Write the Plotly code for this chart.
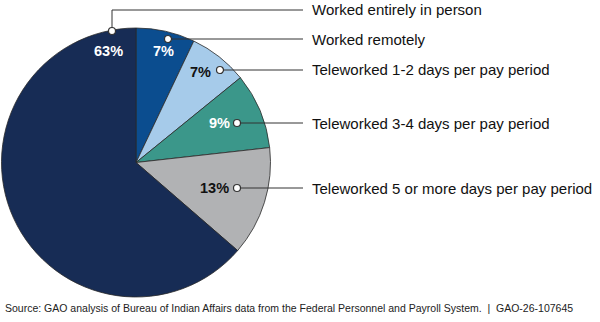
import plotly.graph_objects as go

categories = ["Worked remotely", "Teleworked 1-2 days per pay period",
              "Teleworked 3-4 days per pay period",
              "Teleworked 5 or more days per pay period", "Worked entirely in person"]
values = [7, 7, 9, 13, 63]
colors = ["#0b4d8f", "#a6cbea", "#3b978a", "#b1b2b4", "#172c55"]
pct_colors = ["white", "#111111", "white", "#111111", "white"]

W, H = 600, 322
def px(x): return x / W
def py(y): return 1 - y / H

# layout positions (pixels) for labels
pct_pos = [(163, 51), (200, 72), (220, 123), (214, 188), (108, 51)]
dot_pos = [(168, 39), (220, 70), (237, 123), (237, 188), (112, 31)]
lab_y = [39, 70, 125, 188, 10]

fig = go.Figure(go.Pie(
    labels=categories, values=values, sort=False, direction="clockwise",
    marker=dict(colors=colors, line=dict(color="#2a2a2a", width=0.8)),
    textinfo="none", hoverinfo="label+percent", showlegend=False,
    domain=dict(x=[0, 272 / W], y=[py(297), py(28)]),
))

shapes = []
annotations = []
for i, cat in enumerate(categories):
    dx, dy = dot_pos[i]
    ly = lab_y[i]
    line = dict(color="#333333", width=1)
    last = i == len(categories) - 1
    if last:
        shapes.append(dict(type="line", xref="paper", yref="paper",
                           x0=px(dx), y0=py(dy), x1=px(dx), y1=py(ly), line=line))
        shapes.append(dict(type="line", xref="paper", yref="paper",
                           x0=px(dx), y0=py(ly), x1=px(303), y1=py(ly), line=line))
    else:
        shapes.append(dict(type="line", xref="paper", yref="paper",
                           x0=px(dx), y0=py(dy), x1=px(303), y1=py(dy), line=line))
    r = 3.5
    shapes.append(dict(type="circle", xref="paper", yref="paper",
                       x0=px(dx - r), x1=px(dx + r), y0=py(dy + r), y1=py(dy - r),
                       fillcolor="white", line=dict(color="#333333", width=1.2)))
    tx, ty = pct_pos[i]
    annotations.append(dict(x=px(tx), y=py(ty), xref="paper", yref="paper",
                            text=f"<b>{values[i]}%</b>", showarrow=False,
                            font=dict(family="Liberation Sans, Arial", size=14.5, color=pct_colors[i]),
                            xanchor="center", yanchor="middle"))
    annotations.append(dict(x=px(310), y=py(ly if last else dy), xref="paper", yref="paper",
                            text=cat, showarrow=False,
                            font=dict(family="Liberation Sans, Arial", size=15, color="#111111"),
                            xanchor="left", yanchor="middle"))

annotations.append(dict(x=px(3), y=py(308), xref="paper", yref="paper",
                        text="Source: GAO analysis of Bureau of Indian Affairs data from the Federal Personnel and Payroll System.  |  GAO-26-107645",
                        showarrow=False, xanchor="left", yanchor="middle",
                        font=dict(family="Liberation Sans, Arial", size=10.5, color="#222222")))

fig.update_layout(width=W, height=H, margin=dict(l=0, r=0, t=0, b=0),
                  paper_bgcolor="white", plot_bgcolor="white",
                  shapes=shapes, annotations=annotations)
fig.write_html("out.html")
